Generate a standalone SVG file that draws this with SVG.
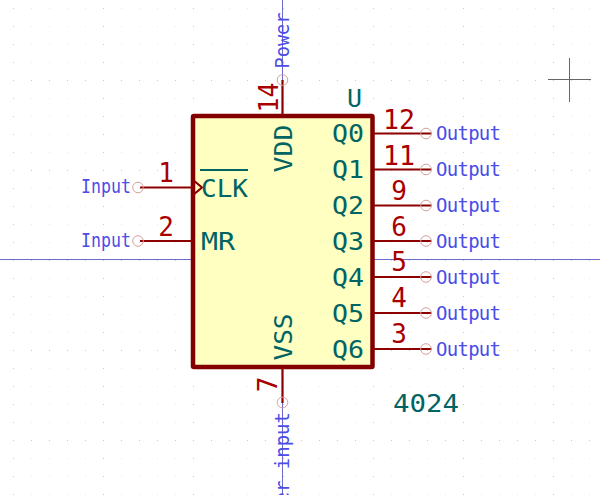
<svg xmlns="http://www.w3.org/2000/svg" width="600" height="495" viewBox="0 0 600 495">
<style>
text{font-family:"DejaVu Sans Mono","Liberation Mono",monospace}
.pin{stroke:#8c0000;stroke-width:2.200;fill:none}
.end{stroke:#d8a0a0;stroke-width:1;fill:none}
.num{fill:#a80000;font-size:26px;text-anchor:middle}
.name{fill:#006464;font-size:25px}
.lbl{fill:#4c4ce6;font-size:19px}
.axis{stroke:#6c6cc8;stroke-width:1;fill:none}
</style>
<defs>
<pattern id="minor" x="13" y="8" width="18" height="18" patternUnits="userSpaceOnUse"><rect width="1" height="1" fill="#e8e8e8"/></pattern>
<pattern id="major" x="13" y="80" width="90" height="90" patternUnits="userSpaceOnUse"><rect x="0" y="0" width="1" height="1" fill="#c8c8c8"/><rect x="18" y="0" width="1" height="1" fill="#c8c8c8"/><rect x="36" y="0" width="1" height="1" fill="#c8c8c8"/><rect x="54" y="0" width="1" height="1" fill="#c8c8c8"/><rect x="72" y="0" width="1" height="1" fill="#c8c8c8"/><rect x="0" y="18" width="1" height="1" fill="#c8c8c8"/><rect x="0" y="36" width="1" height="1" fill="#c8c8c8"/><rect x="0" y="54" width="1" height="1" fill="#c8c8c8"/><rect x="0" y="72" width="1" height="1" fill="#c8c8c8"/></pattern>
</defs>
<rect width="600" height="495" fill="#ffffff"/>
<rect id="grid" width="600" height="495" fill="url(#minor)"/>
<rect id="grid-major" width="600" height="495" fill="url(#major)"/>
<g id="axes">
<path class="axis" d="M0 259.500H600M282.500 0V495"/>
</g>
<g id="cursor"><path d="M548 79.500H591M569.500 58V102" stroke="#666666" stroke-width="1" fill="none"/></g>
<g id="body"><rect x="193" y="116" width="179.500" height="251" rx="1" fill="#ffffc2" stroke="#840000" stroke-width="4.500"/></g>
<g id="connectors">
<path class="pin" d="M140 187.500H193M140 241H193M373 133.500H431.500M373 169.500H431.500M373 205.500H431.500M373 241H431.500M373 277H431.500M373 313H431.500M373 349H431.500M282.500 80V114M282.500 369V403"/>
<path class="pin" d="M193 180L202 187.500L193 195"/>
<circle class="end" cx="138" cy="187.500" r="5.300"/><circle class="end" cx="138" cy="241" r="5.300"/>
<circle class="end" cx="426" cy="133.500" r="5.300"/><circle class="end" cx="426" cy="169.500" r="5.300"/><circle class="end" cx="426" cy="205.500" r="5.300"/><circle class="end" cx="426" cy="241" r="5.300"/><circle class="end" cx="426" cy="277" r="5.300"/><circle class="end" cx="426" cy="313" r="5.300"/><circle class="end" cx="426" cy="349" r="5.300"/>
<circle class="end" cx="282.500" cy="80" r="5.300"/><circle class="end" cx="282.500" cy="402.500" r="5.300"/>
</g>
<g id="clk"><path d="M200 170H248" stroke="#006464" stroke-width="2" fill="none"/><text class="name" x="201" y="197" textLength="47" lengthAdjust="spacingAndGlyphs">CLK</text><text class="num" x="166" y="181.500">1</text><text class="lbl" x="81" y="193" textLength="50" lengthAdjust="spacingAndGlyphs">Input</text></g>
<g id="mr"><text class="name" x="201" y="250" textLength="34" lengthAdjust="spacingAndGlyphs">MR</text><text class="num" x="166" y="235.500">2</text><text class="lbl" x="81" y="247" textLength="50" lengthAdjust="spacingAndGlyphs">Input</text></g>
<g id="vdd"><text class="name" transform="translate(292,172.500) rotate(-90)" textLength="48" lengthAdjust="spacingAndGlyphs">VDD</text><text class="num" transform="translate(278,97.500) rotate(-90)" textLength="30" lengthAdjust="spacingAndGlyphs">14</text><text class="lbl" transform="translate(289,68.500) rotate(-90)" textLength="56" lengthAdjust="spacingAndGlyphs">Power</text></g>
<g id="vss"><text class="name" transform="translate(292,360.500) rotate(-90)" textLength="47" lengthAdjust="spacingAndGlyphs">VSS</text><text class="num" transform="translate(277,384.500) rotate(-90)">7</text><text class="lbl" text-anchor="end" transform="translate(289,412) rotate(-90)">Power input</text></g>
<g id="q0"><text class="name" x="332" y="142" textLength="32" lengthAdjust="spacingAndGlyphs">Q0</text><text class="num" x="399" y="128.500" textLength="32" lengthAdjust="spacingAndGlyphs">12</text><text class="lbl" x="436" y="140" textLength="65">Output</text></g>
<g id="q1"><text class="name" x="332" y="178" textLength="32" lengthAdjust="spacingAndGlyphs">Q1</text><text class="num" x="399" y="164.500" textLength="32" lengthAdjust="spacingAndGlyphs">11</text><text class="lbl" x="436" y="176" textLength="65">Output</text></g>
<g id="q2"><text class="name" x="332" y="214" textLength="32" lengthAdjust="spacingAndGlyphs">Q2</text><text class="num" x="399" y="200">9</text><text class="lbl" x="436" y="212" textLength="65">Output</text></g>
<g id="q3"><text class="name" x="332" y="250" textLength="32" lengthAdjust="spacingAndGlyphs">Q3</text><text class="num" x="399" y="236">6</text><text class="lbl" x="436" y="248" textLength="65">Output</text></g>
<g id="q4"><text class="name" x="332" y="286" textLength="32" lengthAdjust="spacingAndGlyphs">Q4</text><text class="num" x="399" y="271">5</text><text class="lbl" x="436" y="284" textLength="65">Output</text></g>
<g id="q5"><text class="name" x="332" y="322" textLength="32" lengthAdjust="spacingAndGlyphs">Q5</text><text class="num" x="399" y="307">4</text><text class="lbl" x="436" y="320" textLength="65">Output</text></g>
<g id="q6"><text class="name" x="332" y="358" textLength="32" lengthAdjust="spacingAndGlyphs">Q6</text><text class="num" x="399" y="343">3</text><text class="lbl" x="436" y="356" textLength="65">Output</text></g>
<g id="refs"><text class="name" x="347" y="107">U</text><text class="name" x="393" y="412" textLength="66" lengthAdjust="spacingAndGlyphs">4024</text></g>
</svg>
